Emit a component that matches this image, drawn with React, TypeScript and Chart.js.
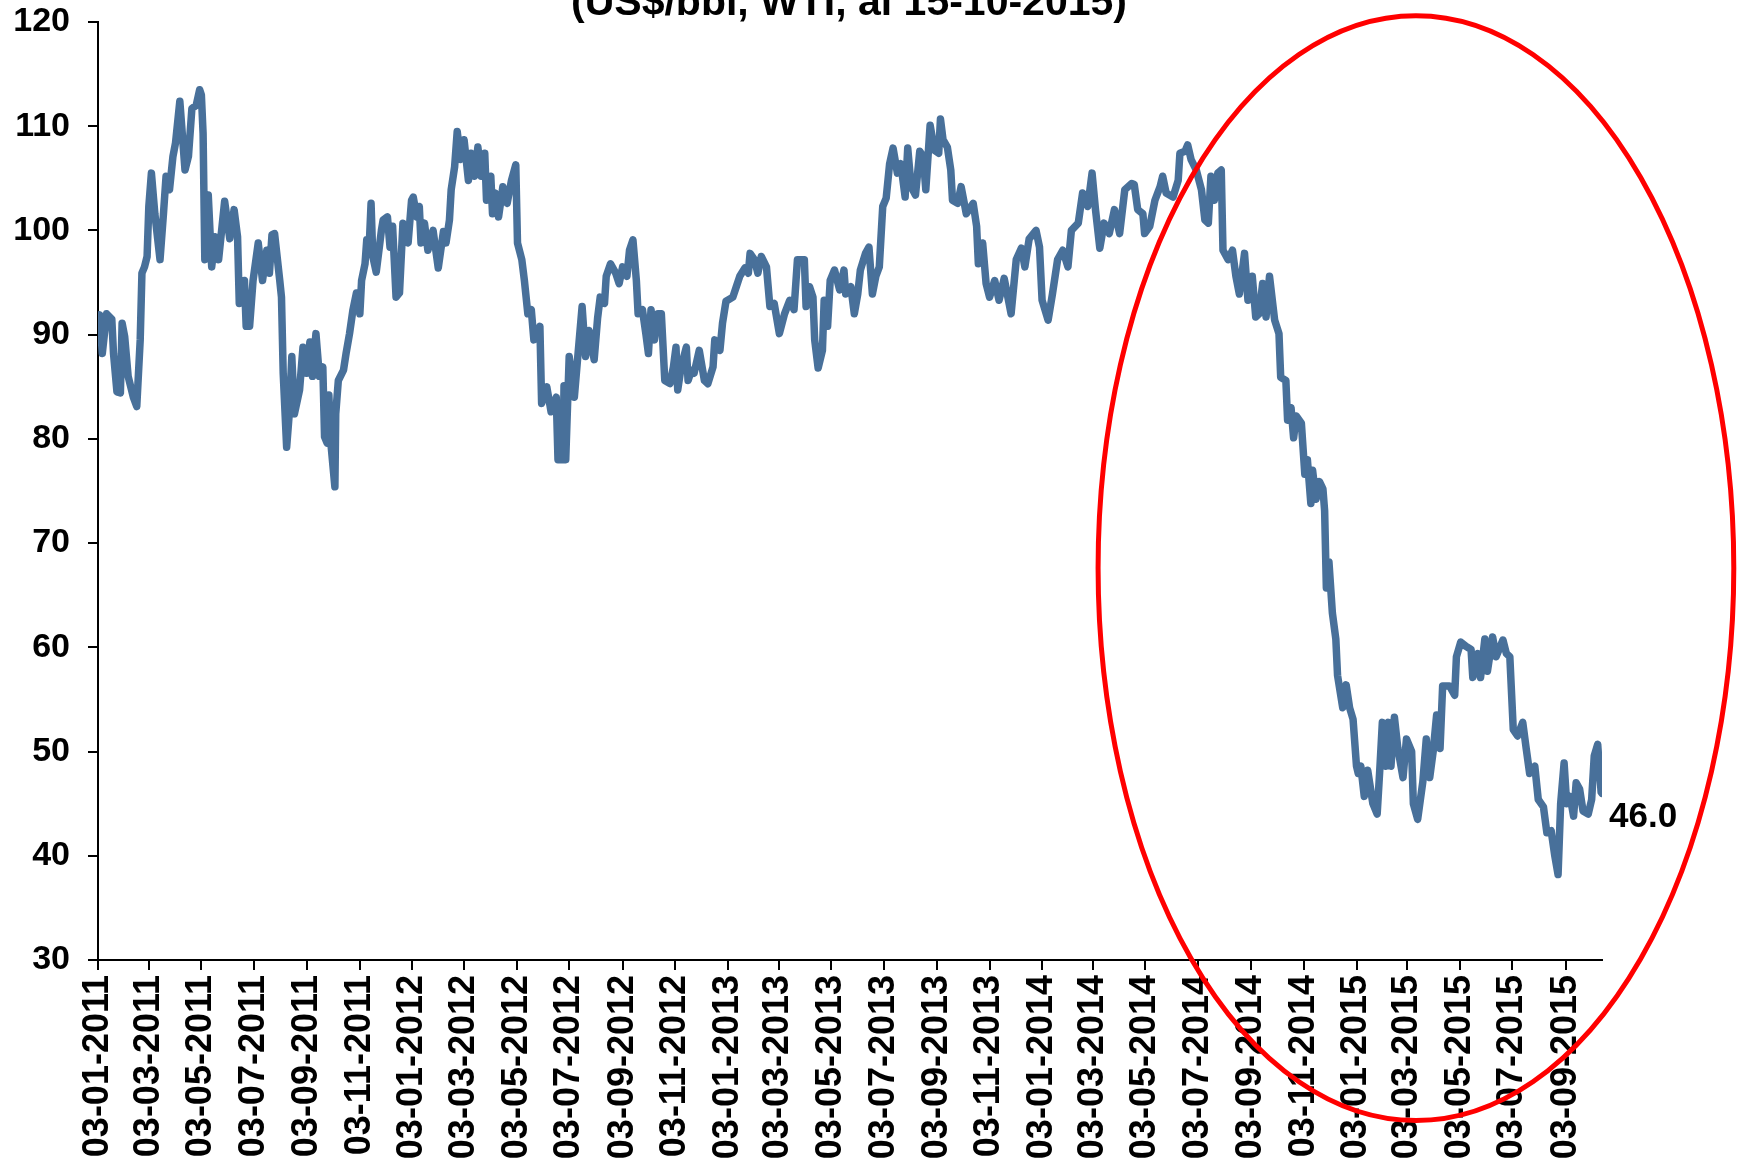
import React, { useEffect, useRef } from 'react';
import { Chart, registerables } from 'chart.js';

Chart.register(...registerables);

// ---------- data ----------
const startDate = '03-01-2011';
const endDate = '15-10-2015';
const titleText = '(US$/bbl, WTI, al 15-10-2015)';
const lastValueLabel = '46.0';

// days elapsed since startDate
const tradingDay = [
  0, 2, 5, 10, 16, 18, 22, 26, 28, 31, 35, 41, 45, 49, 51, 54, 57, 59, 62, 66, 72, 76, 79, 83, 87, 90, 95,
  101, 105, 109, 114, 118, 120, 122, 124, 128, 132, 136, 140, 147, 153, 158, 162, 164, 170, 172, 176, 180,
  186, 191, 196, 199, 202, 205, 211, 213, 215, 219, 222, 225, 228, 234, 238, 242, 246, 249, 253, 257, 261,
  263, 266, 268, 270, 275, 276, 279, 285, 288, 292, 296, 300, 304, 306, 310, 312, 315, 317, 319, 323, 329,
  331, 336, 339, 342, 346, 350, 354, 360, 364, 366, 370, 373, 375, 379, 383, 389, 395, 401, 404, 408, 410,
  414, 417, 421, 425, 430, 433, 437, 441, 445, 449, 451, 456, 458, 461, 465, 470, 475, 480, 485, 487, 492,
  495, 499, 503, 506, 513, 515, 521, 526, 532, 534, 540, 541, 543, 547, 553, 557, 562, 566, 570, 576, 580,
  583, 588, 590, 595, 601, 605, 609, 614, 617, 621, 625, 627, 632, 636, 639, 642, 646, 650, 654, 658, 664,
  668, 671, 673, 677, 683, 685, 689, 692, 698, 704, 708, 714, 716, 722, 725, 729, 737, 741, 745, 751, 755,
  757, 762, 766, 770, 776, 780, 785, 791, 797, 803, 808, 812, 820, 822, 826, 830, 832, 836, 841, 843, 847,
  850, 855, 861, 866, 868, 874, 878, 882, 885, 891, 895, 899, 903, 907, 911, 915, 919, 923, 928, 932, 937,
  940, 944, 949, 954, 958, 961, 966, 971, 976, 978, 981, 986, 990, 992, 998, 1002, 1008, 1016, 1020, 1022,
  1027, 1031, 1035, 1041, 1046, 1052, 1060, 1066, 1072, 1076, 1081, 1089, 1093, 1096, 1103, 1108, 1114,
  1120, 1126, 1130, 1138, 1143, 1149, 1154, 1158, 1163, 1168, 1174, 1180, 1186, 1192, 1200, 1203, 1207,
  1213, 1215, 1221, 1227, 1233, 1236, 1240, 1248, 1254, 1256, 1262, 1265, 1269, 1275, 1281, 1285, 1289,
  1292, 1296, 1300, 1304, 1306, 1312, 1317, 1321, 1325, 1331, 1335, 1340, 1344, 1348, 1352, 1356, 1360,
  1366, 1371, 1373, 1379, 1381, 1385, 1388, 1391, 1397, 1401, 1404, 1408, 1410, 1414, 1418, 1422, 1424,
  1426, 1429, 1433, 1437, 1439, 1445, 1449, 1453, 1457, 1461, 1463, 1466, 1470, 1474, 1480, 1485, 1488,
  1491, 1495, 1498, 1501, 1505, 1509, 1515, 1519, 1525, 1527, 1532, 1538, 1542, 1546, 1550, 1554, 1558,
  1561, 1569, 1575, 1577, 1582, 1588, 1594, 1596, 1602, 1605, 1610, 1613, 1619, 1623, 1631, 1635, 1639,
  1643, 1648, 1654, 1658, 1662, 1668, 1672, 1678, 1682, 1687, 1691, 1695, 1698, 1702, 1705, 1709, 1713,
  1716, 1720, 1724, 1730, 1734, 1737, 1741, 1745, 1746,
];

// WTI, US$/bbl
const wtiPrice = [
  91.5, 91.9, 88.2, 92.0, 91.5, 88.2, 84.5, 84.4, 91.1, 89.8, 86.0, 84.0, 83.1, 89.5, 95.9, 96.5, 97.5, 102.3, 105.5, 101.6, 97.2, 101.6, 105.2, 103.9, 107.1, 108.4, 112.4,
  105.8, 107.1, 111.7, 112.0, 113.5, 113.0, 109.3, 97.2, 103.4, 96.5, 99.4, 97.2, 102.8, 99.2, 102.0, 99.4, 93.0, 95.2, 90.8, 90.8, 95.2,
  98.8, 95.2, 98.1, 95.9, 99.6, 99.7, 95.2, 93.6, 86.3, 79.2, 82.4, 87.9, 82.4, 84.7, 88.8, 86.3, 89.3, 86.0, 90.1, 86.0, 86.9,
  80.2, 79.6, 84.2, 79.9, 75.4, 82.4, 85.6, 86.6, 88.2, 90.1, 92.4, 94.0, 92.0, 95.2, 96.8, 99.1, 98.8, 102.6, 97.5, 96.0, 100.0,
  101.0, 101.3, 98.4, 100.4, 93.6, 94.0, 100.7, 98.8, 102.9, 103.2, 101.3, 102.3, 98.8, 100.7, 98.1, 100.0, 96.4, 99.9, 98.8, 101.0, 103.9,
  106.1, 109.5, 106.8, 108.7, 104.8, 107.4, 105.2, 108.0, 105.2, 107.4, 102.9, 105.2, 101.6, 103.6, 101.3, 104.2, 102.6, 104.8, 106.3, 98.8, 97.2,
  95.2, 92.0, 92.4, 89.5, 90.8, 83.4, 85.0, 82.6, 84.0, 78.0, 78.0, 85.1, 78.0, 87.9, 84.0, 87.9, 92.7, 87.9, 90.4, 87.6, 91.6,
  93.6, 93.0, 95.6, 96.8, 95.9, 94.9, 96.5, 95.6, 98.1, 99.1, 95.2, 92.0, 92.4, 90.1, 88.2, 92.4, 89.5, 92.0, 92.0, 85.6, 85.3,
  86.9, 88.8, 84.7, 86.9, 88.8, 85.6, 86.6, 86.3, 88.5, 85.6, 85.3, 86.9, 89.5, 88.5, 91.1, 93.2, 93.6, 94.6, 95.6, 96.4, 95.9,
  97.8, 97.2, 95.9, 97.5, 96.5, 92.7, 93.0, 90.1, 92.0, 93.3, 92.4, 97.2, 97.2, 92.7, 94.6, 93.6, 89.5, 86.8, 88.5, 93.3, 90.8,
  95.2, 96.2, 94.3, 96.2, 93.9, 94.6, 92.0, 93.9, 96.2, 97.8, 98.4, 93.9, 95.6, 96.5, 102.3, 103.1, 106.4, 107.9, 105.5, 106.4, 103.2,
  107.9, 104.2, 103.4, 107.6, 107.1, 103.9, 110.1, 107.7, 107.4, 110.7, 108.7, 108.0, 105.8, 102.9, 102.6, 104.2, 101.6, 102.6, 100.4, 96.8,
  98.8, 94.9, 93.6, 95.2, 93.3, 95.4, 92.0, 97.2, 98.3, 96.5, 99.2, 100.0, 98.4, 93.3, 91.4, 93.9, 97.2,
  98.1, 96.5, 100.0, 100.7, 103.6, 102.3, 105.5, 102.0, 98.3, 100.7, 99.7, 102.0, 99.7, 103.9, 104.5, 104.4, 102.0,
  101.6, 99.7, 100.4, 102.9, 104.2, 105.2, 103.6, 103.2, 104.8, 107.4, 107.6, 108.2, 106.8, 105.8, 103.9, 101.0, 100.7,
  105.2, 102.9, 105.5, 105.8, 98.1, 97.2, 98.1, 95.6, 93.9, 97.8, 93.3, 95.6, 91.7, 92.0, 94.9, 91.7, 95.6,
  91.4, 90.1, 85.9, 85.6, 81.8, 83.0, 80.1, 82.2, 81.5, 76.6, 78.0, 73.8, 77.0, 74.2, 75.9, 75.2, 73.1,
  65.7, 68.2, 63.3, 60.8, 57.3, 54.2, 56.4, 54.2, 53.1, 48.6, 47.9, 48.6, 45.7, 48.2, 45.0, 44.0, 48.2,
  52.8, 48.6, 52.8, 48.6, 53.3, 50.3, 47.5, 51.2, 50.0, 45.0, 43.5, 47.1, 51.2, 47.5, 50.0, 53.5, 50.3,
  56.3, 56.3, 55.4, 59.1, 60.5, 60.1, 59.8, 57.1, 59.4, 57.1, 60.8, 57.7, 61.0, 59.1, 60.7, 59.4, 59.1,
  52.1, 51.5, 52.8, 50.3, 47.9, 48.6, 45.4, 44.7, 42.2, 42.4, 40.1, 38.2, 45.0, 48.9, 45.0, 45.7, 43.8,
  47.0, 46.4, 44.3, 44.0, 45.4, 49.6, 50.7, 46.1, 46.0,
];

const xTickLabels = [
  '03-01-2011', '03-03-2011', '03-05-2011', '03-07-2011', '03-09-2011', '03-11-2011',
  '03-01-2012', '03-03-2012', '03-05-2012', '03-07-2012', '03-09-2012', '03-11-2012',
  '03-01-2013', '03-03-2013', '03-05-2013', '03-07-2013', '03-09-2013', '03-11-2013',
  '03-01-2014', '03-03-2014', '03-05-2014', '03-07-2014', '03-09-2014', '03-11-2014',
  '03-01-2015', '03-03-2015', '03-05-2015', '03-07-2015', '03-09-2015',
];

const yMin = 30;
const yMax = 120;
const yStep = 10;

// highlight ellipse (in data units: day, price)
const highlightCenter = [1530, 67.6];
const highlightRadius = [369, 53];

// ---------- helpers ----------
const DAY_MS = 86400000;
function parseDMY(s: string): number {
  const [d, m, y] = s.split('-').map(Number);
  return Date.UTC(y, m - 1, d);
}
function dayOf(s: string): number {
  return Math.round((parseDMY(s) - parseDMY(startDate)) / DAY_MS);
}
const xTickDays = xTickLabels.map(dayOf);
const totalDays = dayOf(endDate);

const FONT = '"Liberation Sans", Arial, Helvetica, sans-serif';

const overlayPlugin = {
  id: 'overlay',
  afterDraw(chart: any) {
    const { ctx, scales } = chart;
    const x = scales.x;
    const y = scales.y;
    ctx.save();
    // title (partially cut off at top)
    ctx.fillStyle = '#000';
    ctx.font = `bold 41px ${FONT}`;
    ctx.textAlign = 'center';
    ctx.textBaseline = 'alphabetic';
    ctx.fillText(titleText, 849, 15);

    // last value label
    const n = tradingDay.length - 1;
    const lx = x.getPixelForValue(tradingDay[n]);
    const ly = y.getPixelForValue(wtiPrice[n]);
    ctx.font = `bold 35px ${FONT}`;
    ctx.textAlign = 'left';
    ctx.fillText(lastValueLabel, lx + 7, ly + 34);

    // red ellipse
    const cx = x.getPixelForValue(highlightCenter[0]);
    const cy = y.getPixelForValue(highlightCenter[1]);
    const rx = Math.abs(x.getPixelForValue(highlightCenter[0] + highlightRadius[0]) - cx);
    const ry = Math.abs(y.getPixelForValue(highlightCenter[1] - highlightRadius[1]) - cy);
    ctx.beginPath();
    ctx.ellipse(cx, cy, rx, ry, 0, 0, Math.PI * 2);
    ctx.strokeStyle = '#FF0000';
    ctx.lineWidth = 5;
    ctx.stroke();
    ctx.restore();
  },
};

export default function App() {
  const canvasRef = useRef<HTMLCanvasElement | null>(null);

  useEffect(() => {
    if (!canvasRef.current) return;
    const chart = new Chart(canvasRef.current, {
      type: 'line',
      data: {
        datasets: [
          {
            data: tradingDay.map((d, i) => ({ x: d, y: wtiPrice[i] })),
            borderColor: '#48709A',
            borderWidth: 7.5,
            pointRadius: 0,
            tension: 0,
            borderJoinStyle: 'round',
            borderCapStyle: 'round',
            fill: false,
          },
        ],
      },
      options: {
        animation: false,
        responsive: false,
        maintainAspectRatio: false,
        layout: { padding: { top: 22, right: 139, left: 0, bottom: 0 } },
        plugins: {
          legend: { display: false },
          tooltip: { enabled: false },
          title: { display: false },
        },
        scales: {
          x: {
            type: 'linear',
            min: 0,
            max: totalDays,
            afterBuildTicks: (scale: any) => {
              scale.ticks = xTickDays.map((v) => ({ value: v }));
            },
            afterFit: (scale: any) => {
              scale.height = 207;
              scale.paddingLeft = 0;
              scale.paddingRight = 0;
            },
            ticks: {
              autoSkip: false,
              maxRotation: 90,
              minRotation: 90,
              padding: 5,
              color: '#000',
              font: { family: FONT, size: 36, weight: 'bold' },
              callback: (_v: any, i: number) => xTickLabels[i],
            },
            grid: {
              drawOnChartArea: false,
              drawTicks: true,
              tickLength: 10,
              color: '#000',
              lineWidth: 2,
            },
            border: { display: true, color: '#000', width: 2 },
          },
          y: {
            min: yMin,
            max: yMax,
            afterFit: (scale: any) => {
              scale.width = 98;
              scale.paddingTop = 0;
              scale.paddingBottom = 0;
            },
            ticks: {
              stepSize: yStep,
              padding: 18,
              color: '#000',
              font: { family: FONT, size: 34, weight: 'bold' },
            },
            grid: {
              drawOnChartArea: false,
              drawTicks: true,
              tickLength: 10,
              color: '#000',
              lineWidth: 2,
            },
            border: { display: true, color: '#000', width: 2 },
          },
        },
      },
      plugins: [overlayPlugin],
    } as any);
    return () => chart.destroy();
  }, []);

  return (
    <div style={{ position: 'absolute', left: 0, top: 0, width: 1741, height: 1167, background: '#fff' }}>
      <canvas ref={canvasRef} width={1741} height={1167} style={{ display: 'block' }} />
    </div>
  );
}
